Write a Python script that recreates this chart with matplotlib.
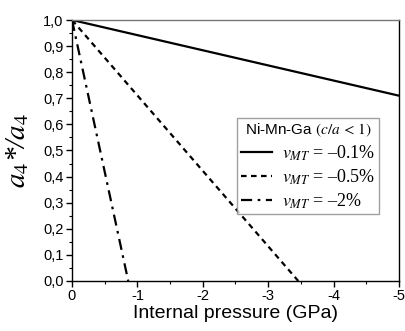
import matplotlib
matplotlib.use("Agg")
import matplotlib.pyplot as plt
from matplotlib.ticker import MultipleLocator, FuncFormatter

# Data
pressure_01 = [0.0, -5.0]
ratio_01 = [1.0, 0.71]
pressure_05 = [0.0, -3.46]
ratio_05 = [1.0, 0.0]
pressure_2 = [0.0, -0.86]
ratio_2 = [1.0, 0.0]
labels = [r'$v_{MT}$ = –0.1%', r'$v_{MT}$ = –0.5%', r'$v_{MT}$ = –2%']
legend_title = r'Ni-Mn-Ga $\mathrm{(}c/a\,<\,\mathrm{1)}$'

plt.rcParams['font.family'] = ['Liberation Sans', 'DejaVu Sans']
plt.rcParams['mathtext.fontset'] = 'stix'
plt.rcParams['axes.unicode_minus'] = False

fig = plt.figure(figsize=(4.06, 3.31), dpi=100)
ax = fig.add_axes([72/406, 50/331, 327/406, 261/331])

ax.plot(pressure_01, ratio_01, color='black', lw=1.6, ls='-', label=labels[0])
ax.plot(pressure_05, ratio_05, color='black', lw=1.6, ls=(0, (2.5, 2.0)), label=labels[1])
ax.plot(pressure_2, ratio_2, color='black', lw=1.6, ls=(0, (5, 2.5, 1.2, 2.5)), label=labels[2])

ax.set_xlim(0, -5)
ax.set_ylim(0, 1.0)
ax.xaxis.set_major_locator(MultipleLocator(1))
ax.xaxis.set_minor_locator(MultipleLocator(0.5))
ax.yaxis.set_major_locator(MultipleLocator(0.1))
ax.yaxis.set_minor_locator(MultipleLocator(0.05))
ax.xaxis.set_major_formatter(FuncFormatter(lambda v, p: f'{v:.0f}' if abs(v) > 1e-9 else '0'))
ax.yaxis.set_major_formatter(FuncFormatter(lambda v, p: f'{v:.1f}'.replace('.', ',')))
ax.tick_params(which='major', direction='out', length=4, width=1, labelsize=10.5, pad=2)
ax.tick_params(which='minor', direction='out', length=2.5, width=0.8)
ax.tick_params(axis='x', which='both', top=False)
ax.tick_params(axis='y', which='both', right=False)
for s in ax.spines.values():
    s.set_linewidth(1.0)
    s.set_color('black')
ax.spines['top'].set_color('#777777')

ax.set_xlabel('Internal pressure (GPa)', fontsize=14, labelpad=1)
ax.set_ylabel(r'$a_4$*/$a_4$', fontsize=21, labelpad=9,
              family=['Liberation Serif', 'DejaVu Serif'], style='italic')

leg = ax.legend(loc='upper left', bbox_to_anchor=(0.505, 0.625), borderaxespad=0,
                title=legend_title, title_fontsize=11,
                prop={'family': ['Liberation Serif', 'DejaVu Serif'], 'size': 13},
                frameon=True, fancybox=False, edgecolor='#888888',
                handlelength=1.75, handletextpad=0.55, labelspacing=0.25,
                borderpad=0.2)
leg.get_frame().set_linewidth(1.0)
leg.get_title().set_ha('center')

fig.savefig('out.png', dpi=100)
